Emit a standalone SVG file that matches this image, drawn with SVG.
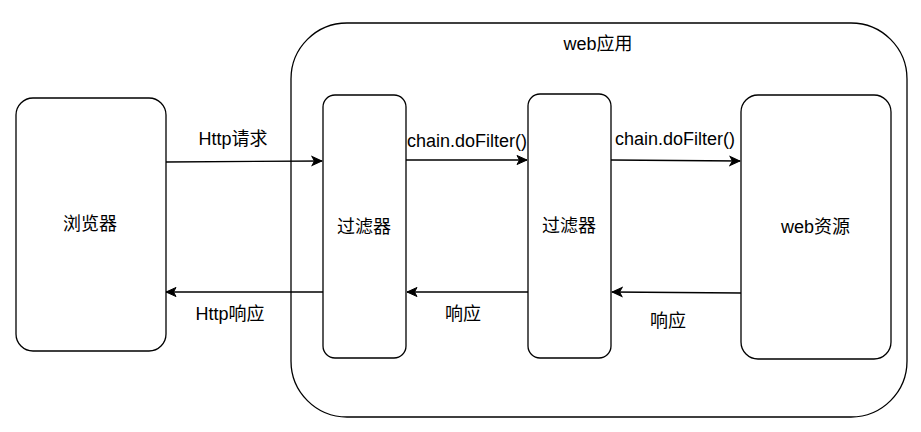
<svg xmlns="http://www.w3.org/2000/svg" width="921" height="432" viewBox="0 0 921 432">
<style>
.box{fill:#fff;stroke:#000;stroke-width:1.3}
.t{font-family:"Liberation Sans","Noto Sans CJK SC",sans-serif;font-size:18px;fill:#000;text-anchor:middle}
.c{fill:none;stroke:#000;stroke-width:1.3}
</style>
<defs>
<marker id="ah" markerUnits="userSpaceOnUse" markerWidth="12" markerHeight="12" viewBox="0 0 12 12" refX="11" refY="6" orient="auto">
<path d="M1,1.5 L11,6 L1,10.5 L3.5,6 Z" fill="#000" stroke="#000" stroke-width="1"/>
</marker>
</defs>
<rect width="921" height="432" fill="#fff"/>
<g id="webapp">
<rect class="box" x="291" y="23" width="616" height="394" rx="56" ry="56"/>
<text class="t" x="598" y="50">web应用</text>
</g>
<g id="browser">
<rect class="box" x="16" y="98" width="150" height="253" rx="17" ry="17"/>
<text class="t" x="90" y="230">浏览器</text>
</g>
<g id="filter1">
<rect class="box" x="323" y="95" width="83" height="263" rx="12" ry="12"/>
<text class="t" x="364" y="233">过滤器</text>
</g>
<g id="filter2">
<rect class="box" x="528" y="94" width="83" height="264" rx="12" ry="12"/>
<text class="t" x="569" y="232">过滤器</text>
</g>
<g id="webres">
<rect class="box" x="741" y="95" width="150" height="264" rx="17" ry="17"/>
<text class="t" x="815.5" y="233">web资源</text>
</g>
<g id="connectors">
<path class="c" d="M166,162 L322,161" marker-end="url(#ah)"/>
<path class="c" d="M323,292 L166,292" marker-end="url(#ah)"/>
<path class="c" d="M406,160 L527,160" marker-end="url(#ah)"/>
<path class="c" d="M528,292 L407,292" marker-end="url(#ah)"/>
<path class="c" d="M611,160 L740,161" marker-end="url(#ah)"/>
<path class="c" d="M741,293 L612,292" marker-end="url(#ah)"/>
<text class="t" x="233" y="145">Http请求</text>
<text class="t" x="230" y="320">Http响应</text>
<text class="t" x="467" y="147">chain.doFilter()</text>
<text class="t" x="675" y="145">chain.doFilter()</text>
<text class="t" x="463" y="320">响应</text>
<text class="t" x="668" y="327">响应</text>
</g>
</svg>
